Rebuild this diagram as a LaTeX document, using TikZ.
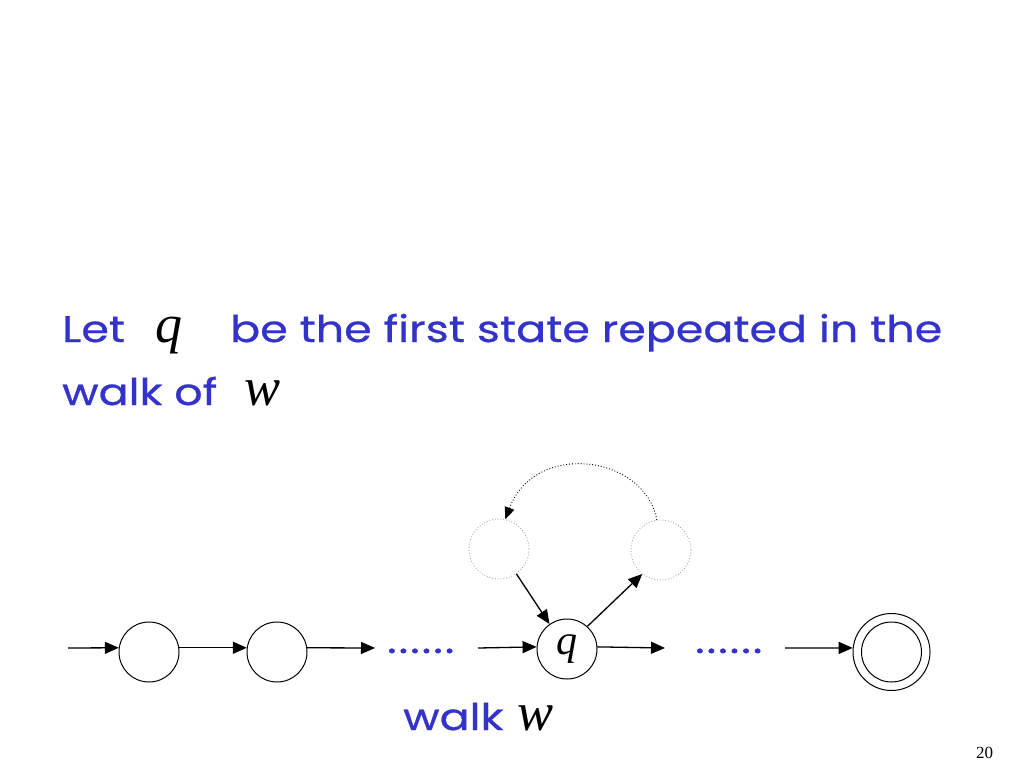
\documentclass[tikz,border=0pt]{standalone}
\usepackage{fontspec}
\setmainfont{Poppins}[FakeStretch=1.2, FakeBold=0.6]
\newfontfamily\dotsfont{Poppins}[FakeStretch=1.2, FakeBold=1.2, LetterSpace=6]
\newfontfamily\tms{Liberation Serif}
\usetikzlibrary{arrows.meta}
\definecolor{comicblue}{RGB}{51,51,204}
\tikzset{
  state/.style={draw, circle, minimum size=60pt, inner sep=0pt, line width=1pt},
  ghost/.style={draw=black!40, dotted, circle, minimum size=60pt, inner sep=0pt, line width=0.8pt},
  arr/.style={line width=1.3pt, -{Triangle[length=14pt,width=12pt]}},
  loopar/.style={line width=0.9pt, dotted, -{Triangle[length=12pt,width=10pt]}},
  btxt/.style={text=comicblue, font=\fontsize{37}{44}\selectfont, inner sep=0pt, anchor=base west},
  dtxt/.style={text=comicblue, font=\fontsize{37}{44}\selectfont\dotsfont, inner sep=0pt, anchor=base west},
  mtxt/.style={font=\fontsize{54}{60}\selectfont\tms\itshape, inner sep=0pt, anchor=base west},
}
\begin{document}
\begin{tikzpicture}[x=1pt,y=-1pt]
\useasboundingbox (0,0) rectangle (1024,768);
% text
\node[btxt] (let) at (62,342) {Let};
\node[mtxt] (q1) at (155,342) {q};
\node[btxt] (be) at (230,342) {be the first state repeated in the};
\node[btxt] (walkof) at (62,405) {walk of};
\node[mtxt] (w1) at (244,405) {w};
\node[btxt] (walk) at (403,730) {walk};
\node[mtxt] (w2) at (517,730) {w};
\node[font=\fontsize{17}{20}\selectfont\tms, inner sep=0pt, anchor=base west] (pg) at (976,758) {20};
% states
\node[state] (c1) at (149,652) {};
\node[state] (c2) at (277,652) {};
\node[state] (q) at (567,649) {\fontsize{42}{44}\selectfont\tms\itshape q};
\node[state, minimum size=77pt] (f) at (891.5,652) {};
\node[state] (fi) at (891.5,652) {};
\node[ghost] (lc) at (499,549) {};
\node[ghost] (rc) at (661,550) {};
% dots
\node[dtxt] (d1) at (387,653) {......};
\node[dtxt] (d2) at (695,653) {......};
% free ends
\coordinate (s0) at (68,648);
\coordinate (e1) at (375,648);
\coordinate (s2) at (478,648);
\coordinate (e3) at (665,648);
\coordinate (s4) at (785,648);
% arrows
\draw[arr] (s0) -- (c1.172);
\draw[arr] (c1.8) -- (c2.172);
\draw[arr] (c2.8) -- (e1);
\draw[arr] (s2) -- (q.176);
\draw[arr] (q.4) -- (e3);
\draw[arr] (s4) -- (f.174);
\draw[arr] (lc.-55) -- (q.125);
\draw[arr] (q.48) -- (rc.-128);
\draw[loopar] (rc.98) .. controls (645,455) and (535,440) .. (lc.78);
\end{tikzpicture}
\end{document}
